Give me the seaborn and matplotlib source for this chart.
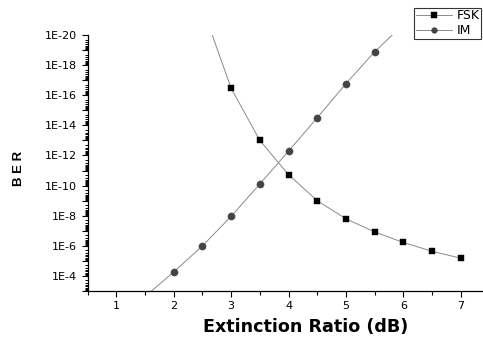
import numpy as np
import pandas as pd
import matplotlib
matplotlib.use("Agg")
import matplotlib.pyplot as plt
from matplotlib.ticker import FixedLocator, FixedFormatter
import seaborn as sns

# Data (points outside the axis range are clipped)
fsk_x = [2.5, 3.0, 3.5, 4.0, 4.5, 5.0, 5.5, 6.0, 6.5, 7.0]
fsk_ber = [1.5e-22, 3.5e-17, 1.0e-13, 1.9e-11, 1.0e-9, 1.6e-8, 1.2e-7, 6.0e-7, 2.3e-6, 6.6e-6]
im_x = [1.5, 2.0, 2.5, 3.0, 3.5, 4.0, 4.5, 5.0, 5.5, 6.0]
im_ber = [2.3e-3, 5.4e-5, 1.0e-6, 1.1e-8, 7.7e-11, 5.2e-13, 3.1e-15, 1.7e-17, 1.3e-19, 2.0e-21]

x_ticks = [1, 2, 3, 4, 5, 6, 7]
y_tick_exps = [-20, -18, -16, -14, -12, -10, -8, -6, -4]
y_tick_labels = ["1E-20", "1E-18", "1E-16", "1E-14", "1E-12", "1E-10", "1E-8", "1E-6", "1E-4"]

sns.set_style("ticks")
plt.rcParams['font.family'] = ['DejaVu Sans']
plt.rcParams['text.color'] = 'black'
plt.rcParams['axes.labelcolor'] = 'black'

fig = plt.figure(figsize=(4.83, 3.40), dpi=100)
ax = fig.add_axes([87.7 / 483, 49 / 340, (489.4 - 87.7) / 483, 256 / 340])

df_fsk = pd.DataFrame({"x": fsk_x, "ber": fsk_ber})
df_im = pd.DataFrame({"x": im_x, "ber": im_ber})

sns.lineplot(data=df_fsk, x="x", y="ber", ax=ax, color="#8a8a8a", linewidth=0.7,
             marker="s", markersize=4.6, markerfacecolor="black", markeredgecolor="black",
             markeredgewidth=0.3, label="FSK")
sns.lineplot(data=df_im, x="x", y="ber", ax=ax, color="#8a8a8a", linewidth=0.7,
             marker="o", markersize=5.2, markerfacecolor="#444444", markeredgecolor="#444444",
             markeredgewidth=0.3, label="IM")

ax.set_yscale("log")
ax.set_ylim(1e-3, 1e-20)
ax.set_xlim(0.5, 7.5)

ax.set_xticks(x_ticks)
ax.set_xticklabels([str(v) for v in x_ticks])
ax.xaxis.set_minor_locator(FixedLocator([0.5 + i for i in range(8)]))

major_vals = [10.0 ** e for e in range(-20, -2)]
ax.yaxis.set_major_locator(FixedLocator(major_vals))
lab_map = {e: l for e, l in zip(y_tick_exps, y_tick_labels)}
ax.yaxis.set_major_formatter(FixedFormatter([lab_map.get(e, "") for e in range(-20, -2)]))
minor_vals = [k * 10.0 ** e for e in range(-21, -2) for k in range(2, 10)]
ax.yaxis.set_minor_locator(FixedLocator(minor_vals))

ax.tick_params(axis="both", which="major", direction="out", length=4.5, width=0.8,
               labelsize=8, color="black", labelcolor="black", pad=3.5)
ax.tick_params(axis="x", which="major", pad=3)
ax.tick_params(axis="y", which="minor", direction="out", length=2.2, width=0.7, color="black")
ax.tick_params(axis="x", which="minor", direction="out", length=3, width=0.8, color="black")

for side in ["top", "right"]:
    ax.spines[side].set_visible(False)
for side in ["left", "bottom"]:
    ax.spines[side].set_linewidth(0.9)
    ax.spines[side].set_color("black")

ax.set_xlabel("Extinction Ratio (dB)", fontsize=12.6, fontweight="bold", color="black")
ax.xaxis.set_label_coords((306 - 87.7) / 401.7, (291 - 318) / 256)
ax.set_ylabel("B E R", fontsize=9.5, fontweight="bold", color="black",
              family=["Liberation Sans", "DejaVu Sans"])
ax.yaxis.set_label_coords((25 - 87.7) / 401.7, (291 - 168) / 256)

leg = ax.legend(loc="upper left", bbox_to_anchor=(414 / 483, 1 - 7.5 / 340),
                bbox_transform=fig.transFigure, frameon=True, fancybox=False,
                fontsize=9, handlelength=2.9, handletextpad=0.35, borderpad=0.15,
                labelspacing=0.12, borderaxespad=0, markerscale=0.8)
leg.get_frame().set_edgecolor("black")
leg.get_frame().set_linewidth(0.8)
for t in leg.get_texts():
    t.set_color("black")

fig.savefig("out.png", dpi=100)
